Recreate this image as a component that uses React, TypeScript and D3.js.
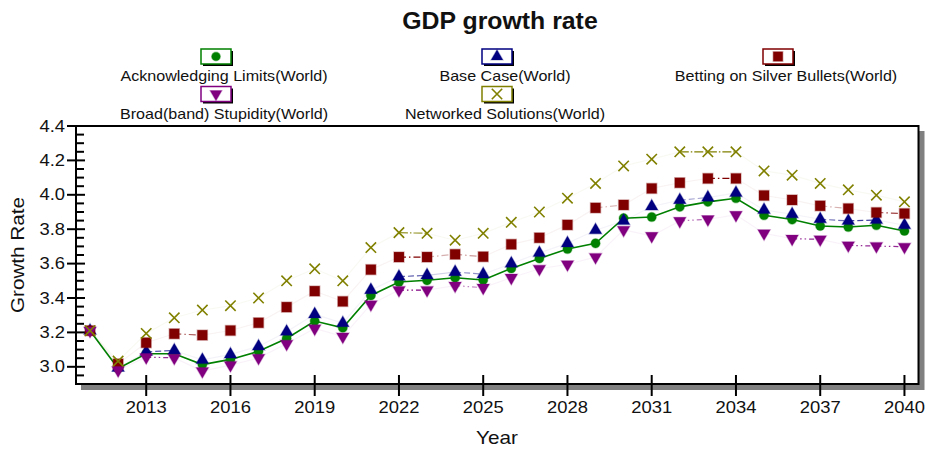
import React from "react";
import * as d3 from "d3";

const years = [
  2011, 2012, 2013, 2014, 2015, 2016, 2017, 2018, 2019, 2020,
  2021, 2022, 2023, 2024, 2025, 2026, 2027, 2028, 2029, 2030,
  2031, 2032, 2033, 2034, 2035, 2036, 2037, 2038, 2039, 2040,
];

const acknowledging = [
  3.21, 2.99, 3.076, 3.076, 3.013, 3.043, 3.09, 3.165, 3.266, 3.227,
  3.415, 3.493, 3.503, 3.518, 3.505, 3.572, 3.63, 3.685, 3.718, 3.864,
  3.871, 3.93, 3.959, 3.98, 3.881, 3.856, 3.819, 3.813, 3.823, 3.79,
];
const baseCase = [
  3.21, 2.994, 3.087, 3.095, 3.04, 3.072, 3.118, 3.204, 3.305, 3.254,
  3.446, 3.524, 3.532, 3.551, 3.538, 3.6, 3.662, 3.718, 3.794, 3.848,
  3.932, 3.969, 3.984, 4.011, 3.912, 3.887, 3.858, 3.848, 3.854, 3.823,
];
const silverBullets = [
  3.21, 3.017, 3.14, 3.192, 3.184, 3.211, 3.256, 3.347, 3.44, 3.38,
  3.565, 3.638, 3.638, 3.654, 3.64, 3.712, 3.75, 3.825, 3.924, 3.941,
  4.037, 4.07, 4.095, 4.095, 3.996, 3.97, 3.936, 3.92, 3.897, 3.891,
];
const stupidity = [
  3.21, 2.98, 3.056, 3.052, 2.975, 3.01, 3.052, 3.134, 3.223, 3.176,
  3.363, 3.446, 3.446, 3.472, 3.46, 3.518, 3.57, 3.596, 3.638, 3.796,
  3.761, 3.848, 3.858, 3.883, 3.776, 3.745, 3.741, 3.706, 3.702, 3.698,
];
const networked = [
  3.21, 3.033, 3.194, 3.285, 3.33, 3.355, 3.4, 3.5, 3.57, 3.5,
  3.693, 3.78, 3.776, 3.736, 3.776, 3.84, 3.9, 3.98, 4.066, 4.168,
  4.207, 4.25, 4.25, 4.25, 4.139, 4.114, 4.066, 4.029, 3.998, 3.959,
];

const xTicks = [2013, 2016, 2019, 2022, 2025, 2028, 2031, 2034, 2037, 2040];
const yTicks = [3.0, 3.2, 3.4, 3.6, 3.8, 4.0, 4.2, 4.4];
const yMinor = [
  2.95, 3.05, 3.1, 3.15, 3.25, 3.3, 3.35, 3.45, 3.5, 3.55, 3.65, 3.7, 3.75,
  3.85, 3.9, 3.95, 4.05, 4.1, 4.15, 4.25, 4.3, 4.35,
];

type Series = {
  name: string;
  values: number[];
  color: string;
  marker: "circle" | "up" | "square" | "down" | "x";
  dash: string;
};

const series: Series[] = [
  { name: "Acknowledging Limits(World)", values: acknowledging, color: "#008000", marker: "circle", dash: "" },
  { name: "Base Case(World)", values: baseCase, color: "#000080", marker: "up", dash: "6,3" },
  { name: "Betting on Silver Bullets(World)", values: silverBullets, color: "#800000", marker: "square", dash: "7,3,1.5,3" },
  { name: "Broad(band) Stupidity(World)", values: stupidity, color: "#800080", marker: "down", dash: "5,3,1.5,3,1.5,3" },
  { name: "Networked Solutions(World)", values: networked, color: "#808000", marker: "x", dash: "9,2,1.5,2" },
];

const FONT = "'Liberation Sans', Arial, Helvetica, sans-serif";
const SX = 1.15; // text in the reference is a bit wide

const W = 928;
const H = 450;
const m = { left: 76, right: 918.5, top: 126, bottom: 384 };

const x = d3.scaleLinear().domain([2010.5, 2040.5]).range([m.left, m.right]);
const y = d3.scaleLinear().domain([2.9, 4.4]).range([m.bottom, m.top]);

const T = ({ x, y, size, children, anchor = "middle", weight = "normal", rotate = 0, baseline, sx = SX }: any) => (
  <text
    transform={`translate(${x},${y}) rotate(${rotate}) scale(${sx},1)`}
    fontSize={size}
    fontFamily={FONT}
    fontWeight={weight}
    textAnchor={anchor}
    dominantBaseline={baseline}
    fill="#111"
  >
    {children}
  </text>
);

const Marker = ({ kind, color, cx, cy, s = 1 }: any) => {
  if (kind === "circle")
    return <circle cx={cx} cy={cy} r={4.6 * s} fill={color} stroke={color} strokeOpacity={0.35} strokeWidth={1.2} />;
  if (kind === "square")
    return (
      <rect x={cx - 5 * s} y={cy - 5 * s} width={10 * s} height={10 * s} fill={color}
        stroke={color} strokeOpacity={0.3} strokeWidth={1.5} />
    );
  if (kind === "x") {
    const r = 5.2 * s;
    return (
      <path d={`M${cx - r},${cy - r}L${cx + r},${cy + r}M${cx - r},${cy + r}L${cx + r},${cy - r}`}
        stroke={color} strokeWidth={1.6} fill="none" />
    );
  }
  const tri = d3.symbol().type(d3.symbolTriangle).size(68 * s * s)()!;
  const rot = kind === "down" ? 180 : 0;
  return (
    <path d={tri} transform={`translate(${cx},${cy}) rotate(${rot})`} fill={color}
      stroke={color} strokeOpacity={0.3} strokeWidth={1.2} />
  );
};

export default function App() {
  const green = series[0];
  const others = series.slice(1);
  const greenLine = d3
    .line<number>()
    .x((_, i) => x(years[i]))
    .y((d) => y(d))(green.values)!;

  return (
    <svg width={W} height={H} style={{ display: "block", position: "absolute", left: 0, top: 0 }}>
      <rect width={W} height={H} fill="#fff" />

      {/* title */}
      <T x={500} y={29} size={23} weight="bold" sx={1.08}>GDP growth rate</T>

      {/* legend */}
      {series.map((s, i) => {
        const col = i % 3;
        const row = Math.floor(i / 3);
        const cx = 216 + col * 281;
        const top = 49 + row * 37.5;
        return (
          <g key={s.name}>
            <rect x={cx - 15 + 2} y={top + 2} width={30} height={15} fill="#000" />
            <rect x={cx - 15} y={top} width={30} height={15} fill="#fff" stroke={s.color} strokeWidth={1.5} />
            <Marker kind={s.marker} color={s.color} cx={cx} cy={top + 7.5} s={s.marker === "x" ? 1 : 0.95} />
            <T x={cx + 8} y={top + 32} size={14}>{s.name}</T>
          </g>
        );
      })}

      {/* plot shadow and frame */}
      <rect x={m.left + 5} y={m.top + 5} width={m.right - m.left + 1} height={m.bottom - m.top + 1} fill="#808080" />
      <rect x={m.left} y={m.top} width={m.right - m.left} height={m.bottom - m.top} fill="#fff" stroke="#000" strokeWidth={2} />

      {/* y ticks */}
      {yTicks.map((t) => (
        <g key={t}>
          <line x1={m.left - 9} x2={m.left + 9} y1={y(t)} y2={y(t)} stroke="#000" strokeWidth={2} />
          <T x={m.left - 11} y={y(t)} size={16} anchor="end" baseline="central">{t.toFixed(1)}</T>
        </g>
      ))}
      {yMinor.map((t) => (
        <line key={t} x1={m.left} x2={m.left + 8} y1={y(t)} y2={y(t)} stroke="#000" strokeWidth={2} />
      ))}

      {/* x ticks */}
      {xTicks.map((t) => (
        <g key={t}>
          <line x1={x(t)} x2={x(t)} y1={m.bottom - 9} y2={m.bottom + 12} stroke="#000" strokeWidth={2} />
          <T x={x(t)} y={m.bottom + 29} size={16}>{t}</T>
        </g>
      ))}

      {/* axis titles */}
      <T x={497} y={444} size={18}>Year</T>
      <T x={24} y={255} size={18} rotate={-90}>Growth Rate</T>

      {/* faint series lines: near-flat segments show up darker, like the reference */}
      {others.map((s) =>
        s.values.slice(1).map((v, i) => {
          const x1 = x(years[i]);
          const y1 = y(s.values[i]);
          const x2 = x(years[i + 1]);
          const y2 = y(v);
          const op = Math.max(0.05, 1 - Math.abs(y2 - y1) / 4);
          return (
            <line key={s.name + i} x1={x1} y1={y1} x2={x2} y2={y2} stroke={s.color}
              strokeOpacity={op} strokeWidth={1.2} strokeDasharray={op > 0.2 ? s.dash : ""} />
          );
        })
      )}
      <path d={greenLine} fill="none" stroke={green.color} strokeWidth={1.6} />

      {/* markers */}
      {series.map((s) =>
        s.values.map((v, i) => (
          <Marker key={s.name + i} kind={s.marker} color={s.color} cx={x(years[i])} cy={y(v)} />
        ))
      )}
    </svg>
  );
}
